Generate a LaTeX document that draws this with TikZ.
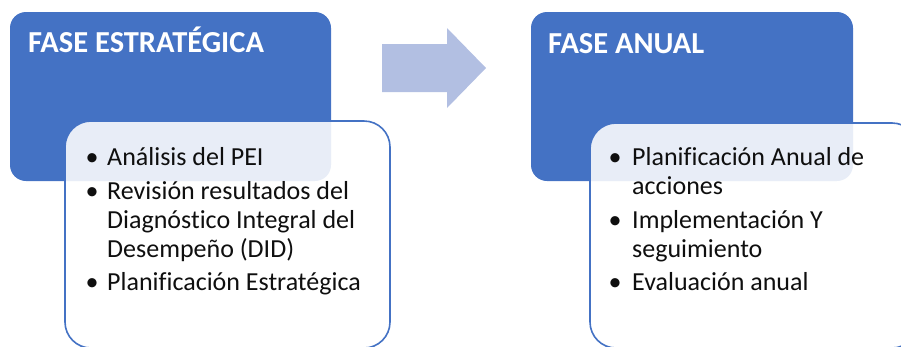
\documentclass[tikz,border=0pt]{standalone}
\usepackage{fontspec}
\setmainfont{Carlito}[Ligatures=NoCommon]
\definecolor{boxblue}{RGB}{68,114,196}
\definecolor{arrowblue}{RGB}{178,191,226}
\definecolor{txt}{RGB}{15,15,15}
\begin{document}
\begin{tikzpicture}[x=1pt,y=-1pt,
  phase/.style={fill=boxblue,rounded corners=16pt},
  listbox/.style={draw=boxblue,line width=1.6pt,fill=white,fill opacity=0.88,rounded corners=26pt},
  title/.style={anchor=base west,inner sep=0pt,text=white,font=\fontsize{30.5}{36}\selectfont\bfseries},
  item/.style={anchor=base west,inner sep=0pt,text=txt,font=\fontsize{26}{29}\selectfont},
  dot/.style={anchor=base,inner sep=0pt,text=txt,font=\fontsize{26}{29}\selectfont}]
\useasboundingbox (0,0) rectangle (901,346);
\clip (0,0) rectangle (901,346);
% left phase
\path[phase] (10,12) rectangle (331,181);
\path[listbox] (65,121) rectangle (390,348);
\node[title] (t1) at (28,52) {FASE ESTRATÉGICA};
\node[dot] (b11) at (92,165) {•};
\node[item] (l11) at (107,165) {Análisis del PEI};
\node[dot] (b12) at (92,199) {•};
\node[item] (l12) at (107,199) {Revisión resultados del};
\node[item] (l13) at (107,228) {Diagnóstico Integral del};
\node[item] (l14) at (107,257) {Desempeño (DID)};
\node[dot] (b13) at (92,290) {•};
\node[item] (l15) at (107,290) {Planificación Estratégica};
% arrow
\fill[arrowblue] (382,44) -- (447,44) -- (447,28) -- (486,68) -- (447,108) -- (447,92) -- (382,92) -- cycle;
% right phase
\path[phase] (531,12) rectangle (853,181);
\path[listbox] (590,123) rectangle (918,348);
\node[title] (t2) at (548,53) {FASE ANUAL};
\node[dot] (b21) at (615,165) {•};
\node[item] (l21) at (632,165) {Planificación Anual de};
\node[item] (l22) at (632,194) {acciones};
\node[dot] (b22) at (615,228) {•};
\node[item] (l23) at (632,228) {Implementación Y};
\node[item] (l24) at (632,257) {seguimiento};
\node[dot] (b23) at (615,290) {•};
\node[item] (l25) at (632,290) {Evaluación anual};
\end{tikzpicture}
\end{document}
